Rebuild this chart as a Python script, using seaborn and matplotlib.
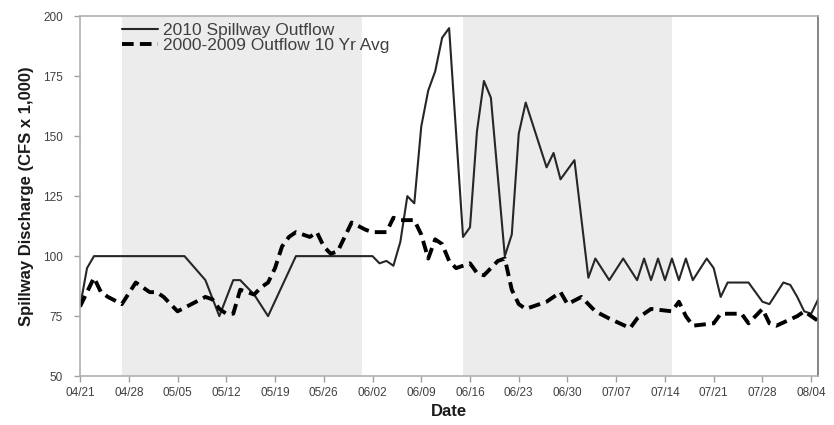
import matplotlib
matplotlib.use("Agg")
import matplotlib.pyplot as plt
import matplotlib.dates as mdates
import seaborn as sns
import pandas as pd

sns.set_style("white")
plt.rcParams['font.family'] = ['Liberation Sans', 'DejaVu Sans']

# 2010 spillway outflow (CFS x 1,000)
outflow_dates = ["04/21", "04/22", "04/23", "05/06", "05/09", "05/11", "05/13", "05/14",
                 "05/16", "05/18", "05/22", "06/02", "06/03", "06/04", "06/05", "06/06",
                 "06/07", "06/08", "06/09", "06/10", "06/11", "06/12", "06/13", "06/15",
                 "06/16", "06/17", "06/18", "06/19", "06/21", "06/22", "06/23", "06/24",
                 "06/27", "06/28", "06/29", "07/01", "07/03", "07/04", "07/06", "07/08",
                 "07/10", "07/11", "07/12", "07/13", "07/14", "07/15", "07/16", "07/17",
                 "07/18", "07/20", "07/21", "07/22", "07/23", "07/26", "07/28", "07/29",
                 "07/31", "08/01", "08/02", "08/03", "08/04", "08/05"]
outflow_vals = [79, 95, 100, 100, 90, 75, 90, 90,
                84, 75, 100, 100, 97, 98, 96, 106,
                125, 122, 154, 169, 177, 191, 195, 108,
                112, 152, 173, 166, 100, 109, 151, 164,
                137, 143, 132, 140, 91, 99, 90, 99,
                90, 99, 90, 99, 90, 99, 90, 99,
                90, 99, 95, 83, 89, 89, 81, 80,
                89, 88, 83, 77, 76, 82]

# 2000-2009 10 year average outflow
avg_dates = ["04/21", "04/23", "04/24", "04/25", "04/27", "04/29", "05/01", "05/02",
             "05/03", "05/05", "05/07", "05/09", "05/10", "05/11", "05/12", "05/13",
             "05/14", "05/15", "05/16", "05/17", "05/18", "05/19", "05/20", "05/21",
             "05/22", "05/24", "05/25", "05/26", "05/27", "05/28", "05/29", "05/30",
             "06/01", "06/02", "06/04", "06/05", "06/06", "06/08", "06/09", "06/10",
             "06/11", "06/12", "06/13", "06/14", "06/16", "06/17", "06/18", "06/20",
             "06/21", "06/22", "06/23", "06/24", "06/26", "06/27", "06/29", "06/30",
             "07/02", "07/04", "07/06", "07/09", "07/10", "07/12", "07/15", "07/16",
             "07/17", "07/18", "07/21", "07/22", "07/25", "07/26", "07/28", "07/29",
             "07/30", "08/02", "08/03", "08/05"]
avg_vals = [79, 91, 85, 83, 80, 89, 85, 85,
            83, 77, 80, 83, 82, 78, 76, 76,
            86, 85, 84, 87, 89, 95, 104, 108,
            110, 108, 110, 104, 101, 102, 108, 114,
            111, 110, 110, 116, 115, 115, 109, 99,
            107, 105, 98, 95, 97, 93, 92, 98,
            99, 86, 80, 78, 80, 81, 85, 80,
            83, 77, 74, 70, 74, 78, 77, 81,
            75, 71, 72, 76, 76, 72, 78, 72,
            71, 75, 77, 73]

# grey bands
shade_start = ["04/27", "06/15"]
shade_end = ["05/31 12:00", "07/15"]

year = "2010/"
df_out = pd.DataFrame({"date": pd.to_datetime([year + d for d in outflow_dates]),
                       "value": outflow_vals})
df_avg = pd.DataFrame({"date": pd.to_datetime([year + d for d in avg_dates]),
                       "value": avg_vals})

fig = plt.figure(figsize=(8.34, 4.25), dpi=100)
ax = fig.add_axes([0.096, 0.115, 0.885, 0.847])

for s, e in zip(shade_start, shade_end):
    ax.axvspan(pd.to_datetime(year + s), pd.to_datetime(year + e),
               color="#ececec", lw=0, zorder=0)

sns.lineplot(data=df_out, x="date", y="value", ax=ax, color="#262626", lw=1.5,
             label="2010 Spillway Outflow")
sns.lineplot(data=df_avg, x="date", y="value", ax=ax, color="black", lw=2.8,
             label="2000-2009 Outflow 10 Yr Avg")
ax.lines[-1].set_linestyle((0, (3, 1.6)))

ax.set_ylim(50, 200)
ax.set_yticks(range(50, 201, 25))
ax.set_xlim(pd.to_datetime("2010/04/21"), pd.to_datetime("2010/08/05"))
ax.set_xticks(pd.date_range("2010-04-21", "2010-08-04", freq="7D"))
ax.xaxis.set_major_formatter(mdates.DateFormatter("%m/%d"))

ax.tick_params(axis="both", labelsize=8.5, labelcolor="#404040", color="#a0a0a0",
               length=4, width=1, direction="out", bottom=True, left=True)
ax.tick_params(axis="y", pad=8.5)
for side in ["left", "bottom", "top"]:
    ax.spines[side].set_color("#b0b0b0")
ax.spines["right"].set_color("#707070")
for sp in ax.spines.values():
    sp.set_linewidth(1.2)

ax.set_xlabel("Date", fontsize=12, fontweight="bold", color="#1a1a1a", labelpad=4)
ax.set_ylabel("Spillway Discharge (CFS x 1,000)", fontsize=12, fontweight="bold",
              color="#1a1a1a", labelpad=6)

leg = ax.legend(loc="upper left", bbox_to_anchor=(0.035, 1.025), frameon=False,
                fontsize=12.5, handlelength=2.1, handletextpad=0.3, labelspacing=0.0)
for t in leg.get_texts():
    t.set_color("#404040")

fig.savefig("out.png", dpi=100)
